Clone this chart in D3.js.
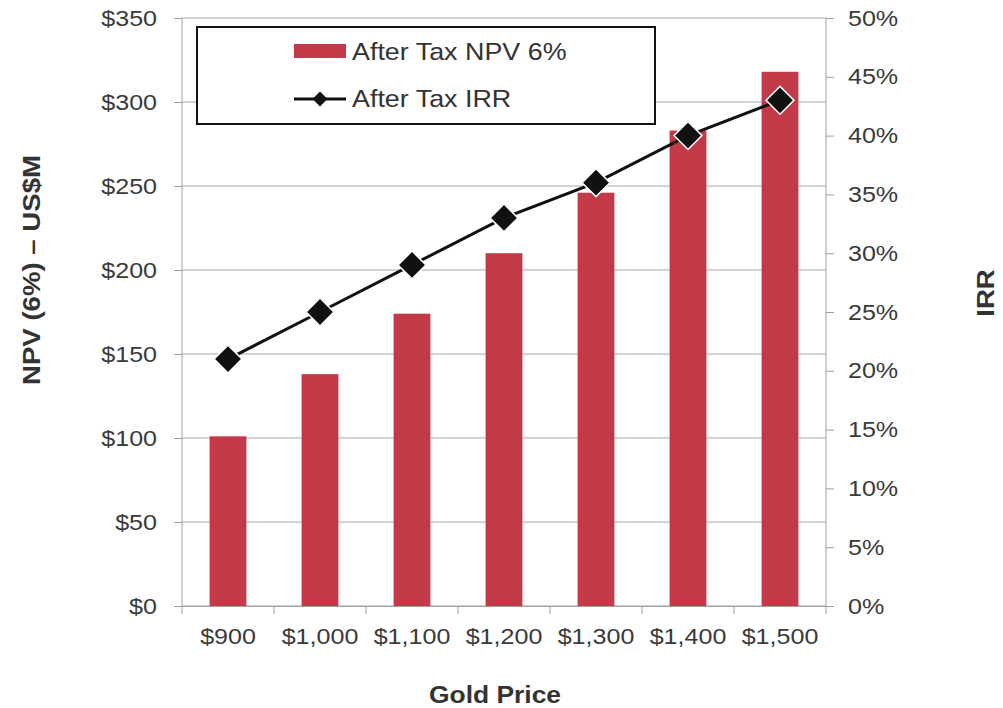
<!DOCTYPE html>
<html>
<head>
<meta charset="utf-8">
<script src="https://cdn.jsdelivr.net/npm/d3@7"></script>
<style>
  body { margin: 0; background: #fff; }
  text { font-family: "Liberation Sans", Arial, sans-serif; }
  .axis text { font-size: 22px; fill: #3a3a3a; }
  .axis path, .axis line { stroke: #a0a0a0; }
  .title { font-size: 24px; font-weight: bold; fill: #333; }
</style>
</head>
<body>
<script>
var goldPrice = ["$900", "$1,000", "$1,100", "$1,200", "$1,300", "$1,400", "$1,500"];
var npv = [101, 138, 174, 210, 246, 283, 318];
var irr = [21, 25, 29, 33, 36, 40, 43];
var npvTicks = [0, 50, 100, 150, 200, 250, 300, 350];
var irrTicks = [0, 5, 10, 15, 20, 25, 30, 35, 40, 45, 50];

var margin = {top: 18, right: 177, bottom: 102, left: 182};
var width = 1003 - margin.left - margin.right;
var height = 708 - margin.top - margin.bottom;

// the original text is a bit wider than Arial, so stretch it sideways
function stretch(sel, s) {
	sel.each(function(){
		var t = d3.select(this);
		var ax = +t.attr('x') || 0;
		t.attr('transform', 'translate(' + ax + ',0) scale(' + s + ',1) translate(' + (-ax) + ',0)');
	});
}

var svg = d3.select('body').append('svg')
	.attr('width', 1003)
	.attr('height', 708);
var g = svg.append('g')
	.attr('transform', 'translate(' + margin.left + ',' + margin.top + ')');

var x = d3.scaleBand().domain(goldPrice).range([0, width]);
var yL = d3.scaleLinear().domain([0, 350]).range([height, 0]);
var yR = d3.scaleLinear().domain([0, 50]).range([height, 0]);

// gridlines
g.selectAll('.grid').data(npvTicks).enter().append('line')
	.attr('x1', 0).attr('x2', width)
	.attr('y1', function(d){ return yL(d); })
	.attr('y2', function(d){ return yL(d); })
	.attr('stroke', '#a8a8a8').attr('stroke-width', 1);

// bars
var bw = x.bandwidth() * 0.4;
g.selectAll('.bar').data(npv).enter().append('rect')
	.attr('x', function(d, i){ return x(goldPrice[i]) + x.bandwidth() / 2 - bw / 2; })
	.attr('y', function(d){ return yL(d); })
	.attr('width', bw)
	.attr('height', function(d){ return height - yL(d); })
	.attr('fill', '#c23a47');

// axes
var leftAxis = g.append('g').attr('class', 'axis')
	.call(d3.axisLeft(yL).tickValues(npvTicks).tickSize(8).tickPadding(17)
		.tickFormat(function(d){ return '$' + d; }));
var rightAxis = g.append('g').attr('class', 'axis')
	.attr('transform', 'translate(' + width + ',0)')
	.call(d3.axisRight(yR).tickValues(irrTicks).tickSize(8).tickPadding(14)
		.tickFormat(function(d){ return d + '%'; }));
var bottomAxis = g.append('g').attr('class', 'axis')
	.attr('transform', 'translate(0,' + height + ')')
	.call(d3.axisBottom(x).tickSize(0).tickPadding(22));
// tick marks between categories
bottomAxis.selectAll('.sep').data(d3.range(goldPrice.length + 1)).enter().append('line')
	.attr('x1', function(i){ return i * x.step(); })
	.attr('x2', function(i){ return i * x.step(); })
	.attr('y1', 0).attr('y2', 8)
	.attr('stroke', '#a0a0a0');
leftAxis.select('.domain').attr('d', 'M0,0V' + height);
rightAxis.select('.domain').attr('d', 'M0,0V' + height);
stretch(g.selectAll('.axis .tick text'), 1.14);

// IRR line
var line = d3.line()
	.x(function(d, i){ return x(goldPrice[i]) + x.bandwidth() / 2; })
	.y(function(d){ return yR(d); });
g.append('path').datum(irr)
	.attr('d', line)
	.attr('fill', 'none')
	.attr('stroke', '#111')
	.attr('stroke-width', 3);
var diamond = d3.symbol().type(d3.symbolSquare).size(390);
g.selectAll('.mk').data(irr).enter().append('path')
	.attr('d', diamond)
	.attr('transform', function(d, i){
		return 'translate(' + (x(goldPrice[i]) + x.bandwidth() / 2) + ',' + yR(d) + ') rotate(45)';
	})
	.attr('fill', '#111')
	.attr('stroke', '#fff')
	.attr('stroke-width', 1.5);

// legend
var lg = svg.append('g').attr('transform', 'translate(197,27)');
lg.append('rect').attr('width', 458).attr('height', 97)
	.attr('fill', '#fff').attr('stroke', '#111').attr('stroke-width', 2);
lg.append('rect').attr('x', 97).attr('y', 17).attr('width', 52).attr('height', 14)
	.attr('fill', '#c23a47');
lg.append('line').attr('x1', 97).attr('x2', 149).attr('y1', 72).attr('y2', 72)
	.attr('stroke', '#111').attr('stroke-width', 3);
lg.append('path').attr('d', d3.symbol().type(d3.symbolSquare).size(110))
	.attr('transform', 'translate(123,72) rotate(45)').attr('fill', '#111');
var lt = lg.selectAll('.lt').data(['After Tax NPV 6%', 'After Tax IRR']).enter().append('text')
	.attr('x', 155)
	.attr('y', function(d, i){ return 33 + i * 47; })
	.attr('font-size', 24).attr('fill', '#333')
	.text(function(d){ return d; });
stretch(lt, 1.12);

// axis titles
var gt = svg.append('text').attr('class', 'title')
	.attr('x', 495).attr('y', 703).attr('text-anchor', 'middle')
	.text('Gold Price');
stretch(gt, 1.1);
svg.append('text').attr('class', 'title')
	.attr('transform', 'translate(40,270) rotate(-90) scale(1.15,1)').attr('text-anchor', 'middle')
	.text('NPV (6%) – US$M');
svg.append('text').attr('class', 'title')
	.attr('transform', 'translate(994,293) rotate(-90) scale(1.15,1)').attr('text-anchor', 'middle')
	.text('IRR');
</script>
</body>
</html>
